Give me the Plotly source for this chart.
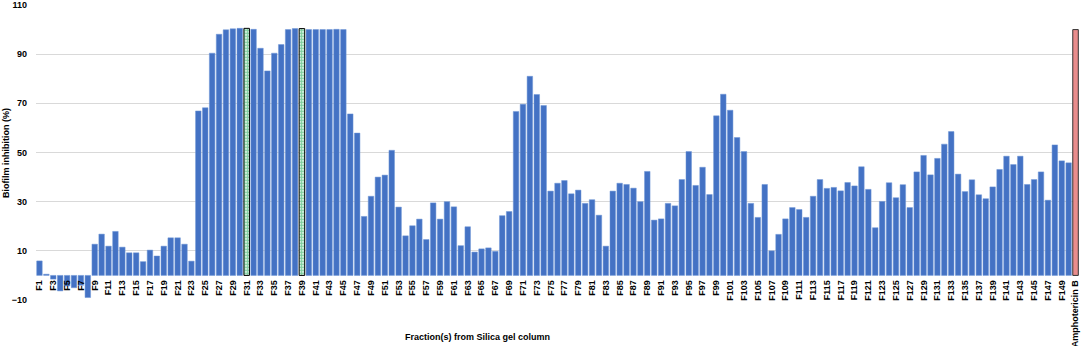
import plotly.graph_objects as go

fractions = [f"F{i}" for i in range(1, 151)]
control = "Amphotericin B"
categories = fractions + [control]

inhibition_fractions = [
    5.9, 0.5, -1.5, -6.3, -4.3, -5.0, -4.0, -9.0, 12.7, 16.8,
    11.9, 17.9, 11.5, 9.2, 9.2, 5.6, 10.3, 7.9, 11.9, 15.3,
    15.3, 12.7, 5.8, 66.9, 68.2, 90.4, 98.1, 99.9, 100.3, 100.5,
    100.5, 100.1, 92.4, 83.2, 90.4, 93.9, 100.0, 100.4, 100.4, 100.0,
    100.0, 100.0, 100.0, 100.1, 100.0, 65.7, 57.9, 24.0, 32.2, 40.0,
    40.8, 50.9, 27.8, 16.1, 20.2, 22.9, 14.6, 29.5, 22.9, 30.0,
    27.9, 12.1, 19.8, 9.5, 10.8, 11.2, 9.8, 24.3, 26.0, 66.7,
    69.6, 81.0, 73.6, 69.1, 34.3, 37.5, 38.6, 33.2, 34.7, 29.3,
    30.8, 24.5, 11.9, 34.3, 37.5, 37.0, 35.5, 30.0, 42.3, 22.5,
    23.0, 29.3, 28.3, 39.0, 50.4, 36.6, 44.0, 32.9, 64.9, 73.7,
    67.2, 56.1, 50.4, 29.3, 23.6, 37.0, 10.0, 16.7, 23.0, 27.6,
    26.8, 23.6, 32.2, 39.0, 35.4, 35.8, 34.4, 37.8, 36.4, 44.2,
    35.0, 19.4, 30.1, 37.7, 31.6, 36.9, 27.6, 42.1, 48.8, 40.9,
    47.6, 53.4, 58.5, 41.2, 34.1, 38.9, 32.8, 31.2, 36.0, 43.1,
    48.5, 45.1, 48.5, 37.0, 39.0, 42.1, 30.6, 53.1, 46.6, 45.8,
]
inhibition_control = [100.0]

highlighted = ["F31", "F39"]
tick_labels = fractions[::2] + [control]

normal_x = [c for c in fractions if c not in highlighted]
normal_y = [v for c, v in zip(fractions, inhibition_fractions) if c not in highlighted]
hl_x = [c for c in fractions if c in highlighted]
hl_y = [v for c, v in zip(fractions, inhibition_fractions) if c in highlighted]

fig = go.Figure()
fig.add_trace(go.Bar(
    x=normal_x, y=normal_y,
    marker=dict(color="#4472C4", line=dict(color="#6E97D6", width=0.5)),
))
fig.add_trace(go.Bar(
    x=hl_x, y=hl_y,
    marker=dict(color="#FFFFFF", line=dict(color="#000000", width=1),
                pattern=dict(shape=".", fgcolor="#00A040", bgcolor="#FFFFFF",
                             size=3, solidity=0.7)),
))
fig.add_trace(go.Bar(
    x=[control], y=inhibition_control,
    marker=dict(color="#EE9494", line=dict(color="#333333", width=1),
                pattern=dict(shape=".", fgcolor="#D46A6A", bgcolor="#EE9494",
                             size=2, solidity=0.4)),
))

ymin, ymax = -10, 110
fig.update_layout(
    width=1084, height=346,
    margin=dict(l=36, r=5, t=5, b=46),
    paper_bgcolor="white", plot_bgcolor="white",
    barmode="overlay", bargap=0.2, showlegend=False,
    font=dict(family="Liberation Sans, Arial, sans-serif", color="#000000"),
    xaxis=dict(
        type="category", categoryorder="array", categoryarray=categories,
        range=[-0.5, len(categories) - 0.5], automargin=False,
        tickmode="array", tickvals=tick_labels, ticktext=tick_labels,
        tickangle=-90, tickfont=dict(size=9, family="Liberation Sans", weight="bold"),
        showgrid=False, showline=False, zeroline=False, ticks="",
        anchor="free", position=(0 - ymin) / (ymax - ymin),
        ticklabelstandoff=2,
    ),
    yaxis=dict(
        range=[ymin, ymax], tickmode="linear", tick0=-10, dtick=20,
        automargin=False,
        showgrid=True, gridcolor="#D9D9D9", gridwidth=1,
        zeroline=False, showline=False, ticks="",
        tickfont=dict(size=9, family="Liberation Sans", weight="bold"),
        ticklabelstandoff=8,
    ),
    annotations=[
        dict(text="<b>Fraction(s) from Silica gel column</b>", xref="paper", yref="paper",
             x=0.423, y=-0.125, xanchor="center", yanchor="middle", showarrow=False,
             font=dict(size=9, family="Liberation Sans")),
        dict(text="<b>Biofilm inhibition (%)</b>", xref="paper", yref="paper",
             x=-0.0288, y=0.498, xanchor="center", yanchor="middle", textangle=-90,
             showarrow=False, font=dict(size=9, family="Liberation Sans")),
    ],
)

fig.write_html("out.html", config={"displayModeBar": False},
               post_script="document.body.style.margin='0';document.body.style.overflow='hidden';")
